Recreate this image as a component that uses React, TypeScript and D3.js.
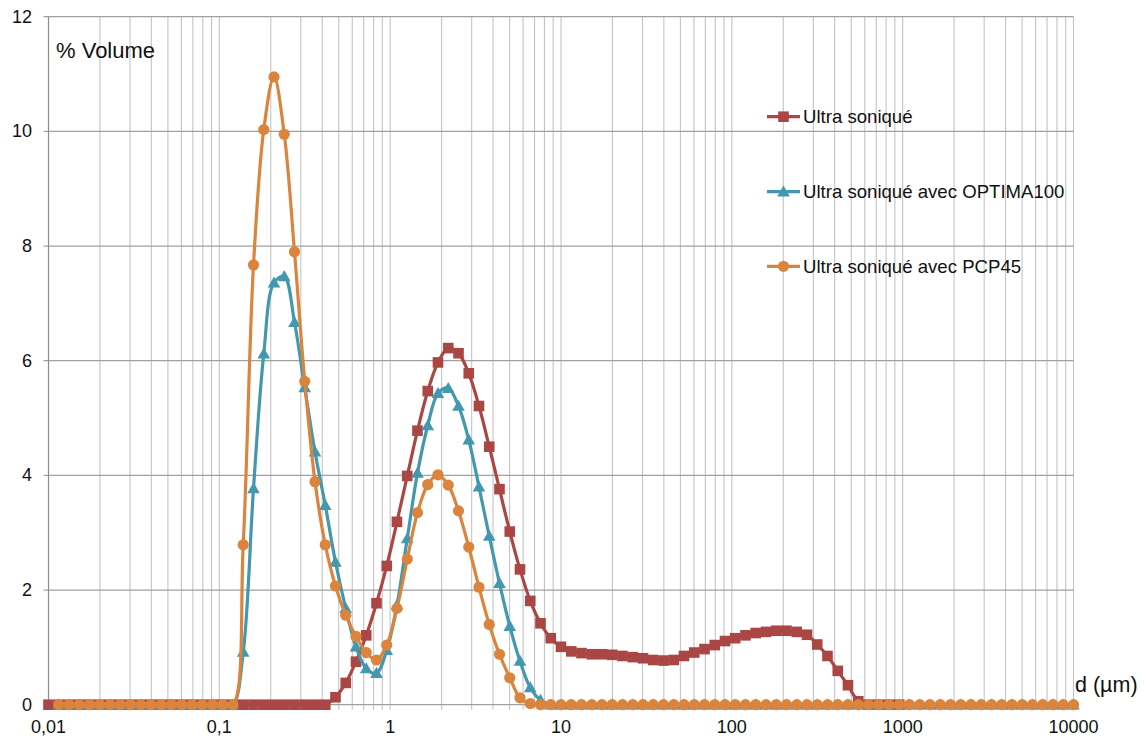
import React from "react";
import * as d3 from "d3";

// Particle size classes (µm)
const sizes: number[] = [
  0.01, 0.01148, 0.01318, 0.01514, 0.01738, 0.01995, 0.02291, 0.0263, 0.0302, 0.03467,
  0.03981, 0.04571, 0.05248, 0.06026, 0.06918, 0.07943, 0.0912, 0.1047, 0.1202, 0.138,
  0.1585, 0.182, 0.2089, 0.2399, 0.2754, 0.3162, 0.3631, 0.4169, 0.4786, 0.5495,
  0.631, 0.7244, 0.8318, 0.955, 1.096, 1.259, 1.445, 1.66, 1.905, 2.188,
  2.512, 2.884, 3.311, 3.802, 4.365, 5.012, 5.754, 6.607, 7.586, 8.71,
  10, 11.48, 13.18, 15.14, 17.38, 19.95, 22.91, 26.3, 30.2, 34.67,
  39.81, 45.71, 52.48, 60.26, 69.18, 79.43, 91.2, 104.7, 120.2, 138,
  158.5, 182, 208.9, 239.9, 275.4, 316.2, 363.1, 416.9, 478.6, 549.5,
  631, 724.4, 831.8, 955, 1096, 1259, 1445, 1660, 1905, 2188,
  2512, 2884, 3311, 3802, 4365, 5012, 5754, 6607, 7586, 8710, 10000,
];

const ultraSonique: (number | null)[] = [
  0, 0, 0, 0, 0, 0, 0, 0, 0, 0,
  0, 0, 0, 0, 0, 0, 0, 0, 0, 0,
  0, 0, 0, 0, 0, 0, 0, 0, 0.13, 0.38,
  0.75, 1.21, 1.77, 2.42, 3.19, 3.99, 4.78, 5.47, 5.97, 6.22,
  6.13, 5.78, 5.21, 4.5, 3.76, 3.02, 2.36, 1.81, 1.42, 1.16,
  1.01, 0.93, 0.9, 0.88, 0.88, 0.87, 0.85, 0.83, 0.81, 0.78,
  0.77, 0.78, 0.85, 0.91, 0.97, 1.04, 1.11, 1.16, 1.21, 1.25,
  1.27, 1.29, 1.29, 1.27, 1.22, 1.05, 0.85, 0.59, 0.34, 0.06,
  0, 0, 0, 0, null, null, null, null, null, null,
  null, null, null, null, null, null, null, null, null, null, null,
];

const optima100: (number | null)[] = [
  null, 0, 0, 0, 0, 0, 0, 0, 0, 0,
  0, 0, 0, 0, 0, 0, 0, 0, 0, 0.92,
  3.77, 6.12, 7.36, 7.47, 6.67, 5.53, 4.41, 3.48, 2.49, 1.68,
  1.01, 0.63, 0.55, 0.95, 1.74, 2.9, 4.04, 4.87, 5.43, 5.52,
  5.21, 4.62, 3.8, 2.94, 2.12, 1.37, 0.76, 0.3, 0.08, 0,
  0, 0, 0, 0, 0, 0, 0, 0, 0, 0,
  0, 0, 0, 0, 0, 0, 0, 0, 0, 0,
  0, 0, 0, 0, 0, 0, 0, 0, 0, 0,
  0, 0, 0, 0, 0, 0, 0, 0, 0, 0,
  0, 0, 0, 0, 0, 0, 0, 0, 0, 0, 0,
];

const pcp45: (number | null)[] = [
  null, 0, 0, 0, 0, 0, 0, 0, 0, 0,
  0, 0, 0, 0, 0, 0, 0, 0, 0, 2.79,
  7.67, 10.03, 10.95, 9.95, 7.9, 5.64, 3.89, 2.79, 2.07, 1.56,
  1.19, 0.91, 0.78, 1.04, 1.68, 2.54, 3.35, 3.84, 4.01, 3.83,
  3.38, 2.75, 2.05, 1.4, 0.88, 0.47, 0.12, 0.02, 0, 0,
  0, 0, 0, 0, 0, 0, 0, 0, 0, 0,
  0, 0, 0, 0, 0, 0, 0, 0, 0, 0,
  0, 0, 0, 0, 0, 0, 0, 0, 0, 0,
  0, 0, 0, 0, 0, 0, 0, 0, 0, 0,
  0, 0, 0, 0, 0, 0, 0, 0, 0, 0, 0,
];

const seriesNames = ["Ultra soniqué", "Ultra soniqué avec OPTIMA100", "Ultra soniqué avec PCP45"];
const seriesColors = ["#AA4643", "#4198AF", "#DB843D"];
const seriesMarkers = ["square", "triangle", "circle"];
const yTickValues = [0, 2, 4, 6, 8, 10, 12];
const xTickValues = [0.01, 0.1, 1, 10, 100, 1000, 10000];
const xTickLabels = ["0,01", "0,1", "1", "10", "100", "1000", "10000"];

const W = 1145;
const H = 737;
const L = 48.5;
const R = 1073.5;
const T = 16.7;
const B = 704.7;
const FONT = "'Liberation Sans', Arial, sans-serif";

function Marker({ kind, cx, cy, color }: { kind: string; cx: number; cy: number; color: string }) {
  if (kind === "square") {
    return <rect x={cx - 5.3} y={cy - 5.3} width={10.6} height={10.6} fill={color} />;
  }
  if (kind === "triangle") {
    const s = 6.3;
    return (
      <path
        d={`M${cx},${cy - s} L${cx + s},${cy + s * 0.75} L${cx - s},${cy + s * 0.75} Z`}
        fill={color}
      />
    );
  }
  return <circle cx={cx} cy={cy} r={5.6} fill={color} />;
}

export default function App() {
  const x = d3.scaleLog().domain([0.01, 10000]).range([L, R]);
  const y = d3.scaleLinear().domain([0, 12]).range([B, T]);

  const minor: number[] = [];
  for (let d = 0.01; d < 9999; d *= 10) {
    for (let k = 2; k <= 9; k++) minor.push(d * k);
  }
  const allV = [...minor, ...xTickValues.slice(1)];

  const series = [ultraSonique, optima100, pcp45];
  const line = d3
    .line<[number, number]>()
    .x((d) => x(d[0]))
    .y((d) => y(d[1]))
    .curve(d3.curveCatmullRom.alpha(0.5));

  const legendY = [116.7, 191.7, 266.3];

  return (
    <svg
      width={W}
      height={H}
      style={{ position: "absolute", left: 0, top: 0, background: "#fff" }}
      fontFamily={FONT}
    >
      <rect x={0} y={0} width={W} height={H} fill="#fff" />
      {/* vertical gridlines */}
      {allV.map((v, i) => (
        <line
          key={"v" + i}
          x1={x(v)}
          x2={x(v)}
          y1={T}
          y2={B + 5}
          stroke="#C4C4C4"
          strokeWidth={1.1}
        />
      ))}
      {/* horizontal gridlines */}
      {yTickValues.map((v) => (
        <line
          key={"h" + v}
          x1={L - 5}
          x2={R}
          y1={y(v)}
          y2={y(v)}
          stroke="#A0A0A0"
          strokeWidth={1.2}
        />
      ))}
      {/* axis line */}
      <line x1={L} x2={L} y1={T} y2={B} stroke="#8C8C8C" strokeWidth={1.2} />

      {/* y tick labels */}
      {yTickValues.map((v) => (
        <text
          key={"yl" + v}
          x={32}
          y={y(v)}
          textAnchor="end"
          dominantBaseline="central"
          fontSize={18}
          fill="#111"
        >
          {v}
        </text>
      ))}
      {/* x tick labels */}
      {xTickValues.map((v, i) => (
        <text key={"xl" + v} x={x(v)} y={733} textAnchor="middle" fontSize={18} fill="#111">
          {xTickLabels[i]}
        </text>
      ))}

      <text x={56} y={58} fontSize={22} fill="#111">
        % Volume
      </text>
      <text x={1075} y={692} fontSize={21.5} fill="#111">
        d (µm)
      </text>

      {/* series */}
      {series.map((s, si) => {
        const pts: [number, number][] = [];
        s.forEach((v, i) => {
          if (v !== null) pts.push([sizes[i], v]);
        });
        return (
          <g key={"s" + si}>
            <path d={line(pts) || ""} fill="none" stroke={seriesColors[si]} strokeWidth={3.2} />
            {pts.map((p, j) => (
              <Marker
                key={j}
                kind={seriesMarkers[si]}
                cx={x(p[0])}
                cy={y(p[1])}
                color={seriesColors[si]}
              />
            ))}
          </g>
        );
      })}

      {/* legend */}
      {seriesNames.map((n, i) => (
        <g key={"lg" + i}>
          <line
            x1={767}
            x2={800}
            y1={legendY[i]}
            y2={legendY[i]}
            stroke={seriesColors[i]}
            strokeWidth={3.2}
          />
          <Marker kind={seriesMarkers[i]} cx={783.5} cy={legendY[i]} color={seriesColors[i]} />
          <text x={803} y={legendY[i]} dominantBaseline="central" fontSize={18.6} fill="#111">
            {n}
          </text>
        </g>
      ))}
    </svg>
  );
}
